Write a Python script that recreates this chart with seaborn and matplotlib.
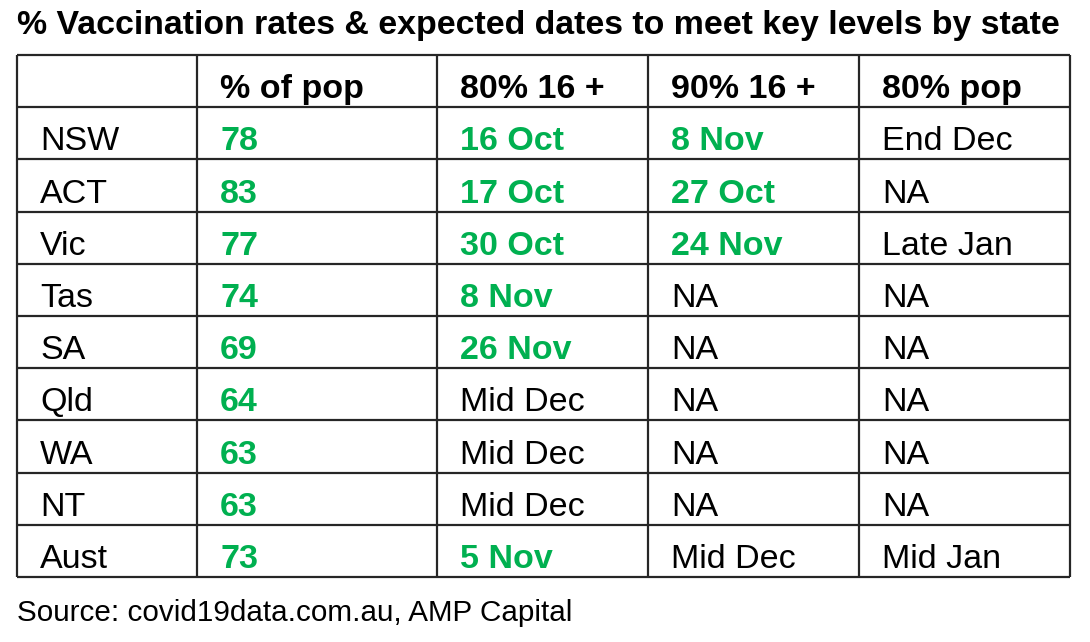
import numpy as np
import pandas as pd
import seaborn as sns
import matplotlib.pyplot as plt

# table content
states = ['NSW', 'ACT', 'Vic', 'Tas', 'SA', 'Qld', 'WA', 'NT', 'Aust']
pct_pop = [78, 83, 77, 74, 69, 64, 63, 63, 73]
p80_16 = ['16 Oct', '17 Oct', '30 Oct', '8 Nov', '26 Nov', 'Mid Dec', 'Mid Dec', 'Mid Dec', '5 Nov']
p90_16 = ['8 Nov', '27 Oct', '24 Nov', 'NA', 'NA', 'NA', 'NA', 'NA', 'Mid Dec']
p80_pop = ['End Dec', 'NA', 'Late Jan', 'NA', 'NA', 'NA', 'NA', 'NA', 'Mid Jan']
headers = ['', '% of pop', '80% 16 +', '90% 16 +', '80% pop']

# which cells are shown in green (on track)
green_80_16 = [True, True, True, True, True, False, False, False, True]
green_90_16 = [True, True, True, False, False, False, False, False, False]

df = pd.DataFrame({
    '': states,
    '% of pop': [str(v) for v in pct_pop],
    '80% 16 +': p80_16,
    '90% 16 +': p90_16,
    '80% pop': p80_pop,
})
green = pd.DataFrame({
    '': [False] * len(states),
    '% of pop': [True] * len(states),
    '80% 16 +': green_80_16,
    '90% 16 +': green_90_16,
    '80% pop': [False] * len(states),
})

sns.set_theme(style="white")
plt.rcParams['font.family'] = ['Liberation Sans', 'DejaVu Sans']

GREEN = '#00B050'
LINE = '#262626'

fig = plt.figure(figsize=(10.9, 6.42), dpi=100)
ax = fig.add_axes([0, 0, 1, 1])
ax.set_xlim(0, 1090)
ax.set_ylim(642, 0)
ax.axis('off')

# layout (pixels)
col_edges = [17, 197, 437, 648, 859, 1070]
top, row_h = 55, 52.2
n_rows = len(states) + 1
row_edges = [top + i * row_h for i in range(n_rows + 1)]

ax.hlines(row_edges, col_edges[0], col_edges[-1], color=LINE, lw=1.6)
ax.vlines(col_edges, row_edges[0], row_edges[-1], color=LINE, lw=1.6)

fs = 24.5
pad = 23
for j, col in enumerate(headers):
    ax.text(col_edges[j] + pad, row_edges[1] - 9, col, fontsize=fs,
            fontweight='bold', color='black', va='baseline', ha='left')

for i in range(len(states)):
    base = row_edges[i + 2] - 9
    for j, col in enumerate(headers):
        is_green = green[col].iloc[i]
        ax.text(col_edges[j] + pad, base, df[col].iloc[i], fontsize=fs,
                fontweight='bold' if is_green else 'normal',
                color=GREEN if is_green else 'black',
                va='baseline', ha='left')

ax.text(17, 34, '% Vaccination rates & expected dates to meet key levels by state',
        fontsize=24.4, fontweight='bold', color='black', va='baseline', ha='left')
ax.text(17, 621, 'Source: covid19data.com.au, AMP Capital',
        fontsize=21.3, color='black', va='baseline', ha='left')

fig.savefig('out.png', dpi=100, facecolor='white')
